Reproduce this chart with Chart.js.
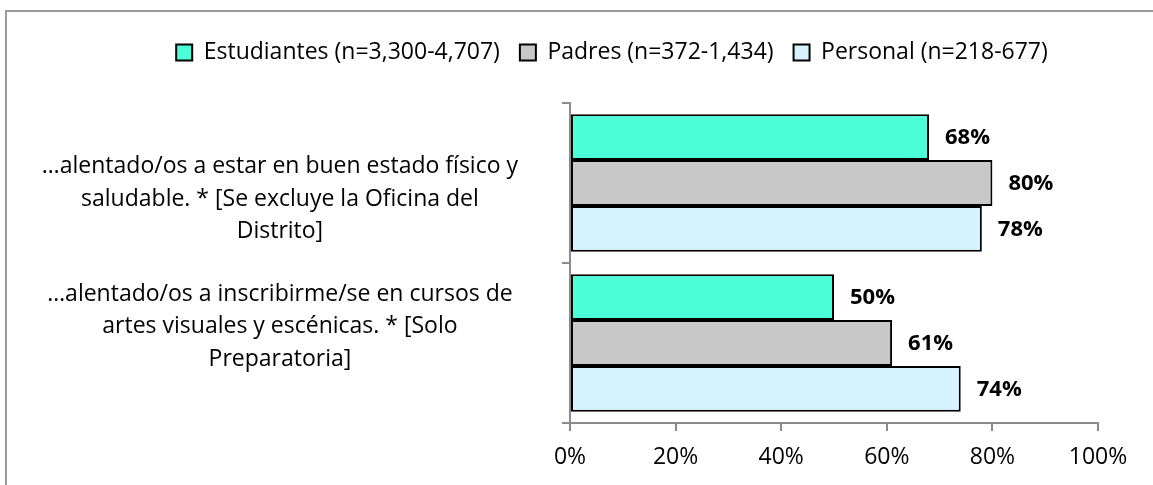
<!DOCTYPE html>
<html>
<head>
<meta charset="utf-8">
<script src="https://cdn.jsdelivr.net/npm/chart.js@4/dist/chart.umd.min.js"></script>
<style>
  html, body { margin: 0; padding: 0; background: #fff; overflow: hidden; }
  #wrap { position: relative; width: 1153px; height: 485px; }
  #frame {
    position: absolute; left: 5px; top: 10px; width: 2000px; height: 2000px;
    border-top: 2px solid #9a9a9a; border-left: 2px solid #9a9a9a;
  }
  #chart { position: absolute; left: 0; top: 0; }
</style>
</head>
<body>
<div id="wrap">
  <div id="frame"></div>
  <canvas id="chart" width="1153" height="485"></canvas>
</div>
<script>
/* ---------------------------
    DATA
------------------------------ */
// ligne vide = decalage vertical du libelle, comme dans l'original
const categories = [
    ["", "…alentado/os a estar en buen estado físico y", "saludable. * [Se excluye la Oficina del", "Distrito]"],
    ["…alentado/os a inscribirme/se en cursos de", "artes visuales y escénicas. * [Solo", "Preparatoria]", ""]
];
const seriesNames = [
    "Estudiantes (n=3,300-4,707)",
    "Padres (n=372-1,434)",
    "Personal (n=218-677)"
];
const estudiantes = [68, 50];
const padres = [80, 61];
const personal = [78, 74];
const xTicks = [0, 20, 40, 60, 80, 100];

const colors = ["#4dffd9", "#c8c8c8", "#d6f3ff"];
const FONT = "'Open Sans', 'Liberation Sans', sans-serif";
const AXIS_GREY = "#8c8c8c";

/* ---------------------------
    PLUGINS
------------------------------ */
// labels "68%" a droite des barres
const valueLabels = {
    id: "valueLabels",
    afterDatasetsDraw(chart) {
        const ctx = chart.ctx;
        ctx.save();
        ctx.font = "bold 22px " + FONT;
        ctx.fillStyle = "#000";
        ctx.textAlign = "left";
        ctx.textBaseline = "middle";
        chart.data.datasets.forEach((ds, i) => {
            chart.getDatasetMeta(i).data.forEach((bar, j) => {
                ctx.fillText(ds.data[j] + "%", bar.x + 16, bar.y + 1);
            });
        });
        ctx.restore();
    }
};

// hauteur fixe de la legende + centrage decale
const legendBox = {
    id: "legendBox",
    beforeInit(chart) {
        const fit = chart.legend.fit;
        chart.legend.fit = function () {
            fit.bind(chart.legend)();
            this.height = 82;
        };
    },
    afterLayout(chart) {
        chart.legend.left += 63;
        chart.legend.right += 63;
    }
};

/* ---------------------------
    CHART
------------------------------ */
new Chart(document.getElementById("chart"), {
    type: "bar",
    data: {
        labels: categories,
        datasets: [estudiantes, padres, personal].map((values, i) => ({
            label: seriesNames[i],
            data: values,
            backgroundColor: colors[i],
            borderColor: "#000",
            borderWidth: 2,
            borderSkipped: false,
            categoryPercentage: 0.86,
            barPercentage: 1.0
        }))
    },
    options: {
        indexAxis: "y",
        responsive: false,
        animation: false,
        layout: { padding: { top: 21, left: 0, right: 55, bottom: 0 } },
        plugins: {
            tooltip: { enabled: false },
            legend: {
                position: "top",
                align: "center",
                labels: {
                    color: "#000",
                    font: { family: FONT, size: 23 },
                    boxWidth: 16,
                    boxHeight: 16,
                    padding: 20
                }
            }
        },
        scales: {
            x: {
                min: 0,
                max: 100,
                afterFit: s => {
                    s.height = 62;
                    s.paddingLeft = 0;
                    s.paddingRight = 0;
                },
                afterBuildTicks: s => { s.ticks = xTicks.map(v => ({ value: v })); },
                ticks: {
                    color: "#000",
                    font: { family: FONT, size: 23 },
                    padding: 13,
                    callback: v => v + "%"
                },
                grid: {
                    drawOnChartArea: false,
                    drawTicks: true,
                    tickLength: 8,
                    color: AXIS_GREY,
                    lineWidth: 2
                },
                border: { color: AXIS_GREY, width: 2 }
            },
            y: {
                afterFit: s => {
                    s.width = 570;
                    s.paddingTop = 0;
                    s.paddingBottom = 0;
                },
                ticks: {
                    color: "#000",
                    font: { family: FONT, size: 23, lineHeight: 1.4 },
                    crossAlign: "center",
                    padding: 44
                },
                grid: {
                    offset: true,
                    drawOnChartArea: false,
                    drawTicks: true,
                    tickLength: 8,
                    color: AXIS_GREY,
                    lineWidth: 2
                },
                border: { color: AXIS_GREY, width: 2 }
            }
        }
    },
    plugins: [valueLabels, legendBox]
});
</script>
</body>
</html>
